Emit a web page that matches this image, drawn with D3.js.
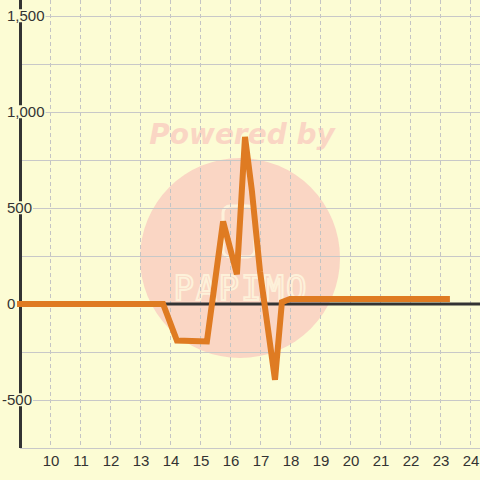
<!DOCTYPE html>
<html>
<head>
<meta charset="utf-8">
<script src="https://cdn.jsdelivr.net/npm/d3@7"></script>
<style>
  body { margin: 0; background: #fcfcd4; }
  svg { display: block; }
  .tick-label { font-family: "Liberation Sans", Arial, sans-serif; font-size: 15px; fill: #333; }
</style>
</head>
<body>
<div id="chart"></div>
<script>
// data
var hours = [8.9, 13.77, 14.23, 15.23, 15.77, 16.23, 16.5, 16.73, 17, 17.5, 17.73, 18, 23.33];
var values = [0, 0, -190, -195, 430, 155, 870, 590, 170, -395, 10, 26, 26];
var xTickValues = [10, 11, 12, 13, 14, 15, 16, 17, 18, 19, 20, 21, 22, 23, 24];
var yLabelValues = [1500, 1000, 500, 0, -500];
var yGridValues = [1500, 1250, 1000, 750, 500, 250, -250, -500, -750];

var width = 480, height = 480;
var plotLeft = 20, plotBottom = 448;
var bg = "#fcfcd4";

var x = d3.scaleLinear().domain([9, 24.333]).range([plotLeft, width]);
var y = d3.scaleLinear().domain([-750, 1583.33]).range([plotBottom, 0]);

var fmt = d3.formatLocale({ decimal: ".", thousands: ",", grouping: [3], currency: ["", ""], minus: "-" }).format(",");

var svg = d3.select("#chart").append("svg")
    .attr("width", width)
    .attr("height", height);

svg.append("rect").attr("width", width).attr("height", height).attr("fill", bg);

// watermark
var wm = svg.append("g");
wm.append("circle")
    .attr("cx", 240).attr("cy", 258).attr("r", 100)
    .attr("fill", "#fad6c4");
wm.append("rect")
    .attr("x", 223).attr("y", 206).attr("width", 32).attr("height", 51).attr("rx", 7)
    .attr("fill", "none").attr("stroke", "#fdf1da").attr("stroke-width", 3);
wm.append("text")
    .attr("x", 241).attr("y", 300)
    .attr("text-anchor", "middle")
    .style("font-family", "DejaVu Sans Mono")
    .style("font-size", "34px")
    .style("letter-spacing", "2px")
    .attr("fill", "none").attr("stroke", "#fdf1da").attr("stroke-width", 2)
    .text("PAPIMO");
wm.append("text")
    .attr("x", 242).attr("y", 144)
    .attr("text-anchor", "middle")
    .style("font-family", "DejaVu Sans")
    .style("font-weight", "bold")
    .style("font-style", "italic")
    .style("font-size", "28px")
    .attr("fill", "#fad6c4")
    .text("Powered by");

// vertical dashed grid
svg.append("g").selectAll("line")
    .data(xTickValues)
  .enter().append("line")
    .attr("x1", function(d) { return Math.round(x(d)) + 0.5; })
    .attr("x2", function(d) { return Math.round(x(d)) + 0.5; })
    .attr("y1", 0).attr("y2", plotBottom)
    .attr("stroke", "#c4c4c4")
    .attr("stroke-dasharray", "4,3");

// horizontal grid
svg.append("g").selectAll("line")
    .data(yGridValues)
  .enter().append("line")
    .attr("x1", plotLeft).attr("x2", width)
    .attr("y1", function(d) { return Math.round(y(d)) + 0.5; })
    .attr("y2", function(d) { return Math.round(y(d)) + 0.5; })
    .attr("stroke", "#c8c8c8");

// zero line and y axis
svg.append("line")
    .attr("x1", plotLeft).attr("x2", width)
    .attr("y1", y(0)).attr("y2", y(0))
    .attr("stroke", "#333").attr("stroke-width", 3);
svg.append("line")
    .attr("x1", plotLeft + 0.5).attr("x2", plotLeft + 0.5)
    .attr("y1", 0).attr("y2", plotBottom)
    .attr("stroke", "#333").attr("stroke-width", 3);

// the series
var line = d3.line()
    .x(function(d, i) { return x(hours[i]); })
    .y(function(d) { return y(d); });

svg.append("path")
    .datum(values)
    .attr("fill", "none")
    .attr("stroke", "#df7b22")
    .attr("stroke-width", 6)
    .attr("stroke-linejoin", "miter")
    .attr("d", line);

// y labels with background boxes
var yl = svg.append("g").selectAll("g")
    .data(yLabelValues)
  .enter().append("g");
yl.append("rect").attr("fill", bg);
yl.append("text")
    .attr("class", "tick-label")
    .attr("x", function(d) { return d < 0 ? 2 : 7; })
    .attr("y", function(d) { return y(d); })
    .attr("dy", "0.35em")
    .text(function(d) { return fmt(d); });
yl.each(function() {
    var g = d3.select(this);
    var b = g.select("text").node().getBBox();
    g.select("rect")
        .attr("x", b.x - 1).attr("y", b.y + 2)
        .attr("width", b.width + 2).attr("height", b.height - 4);
});

// x labels
svg.append("g").selectAll("text")
    .data(xTickValues)
  .enter().append("text")
    .attr("class", "tick-label")
    .attr("x", function(d) { return x(d) + 1; })
    .attr("y", 461)
    .attr("dy", "0.35em")
    .attr("text-anchor", "middle")
    .text(function(d) { return d; });
</script>
</body>
</html>
